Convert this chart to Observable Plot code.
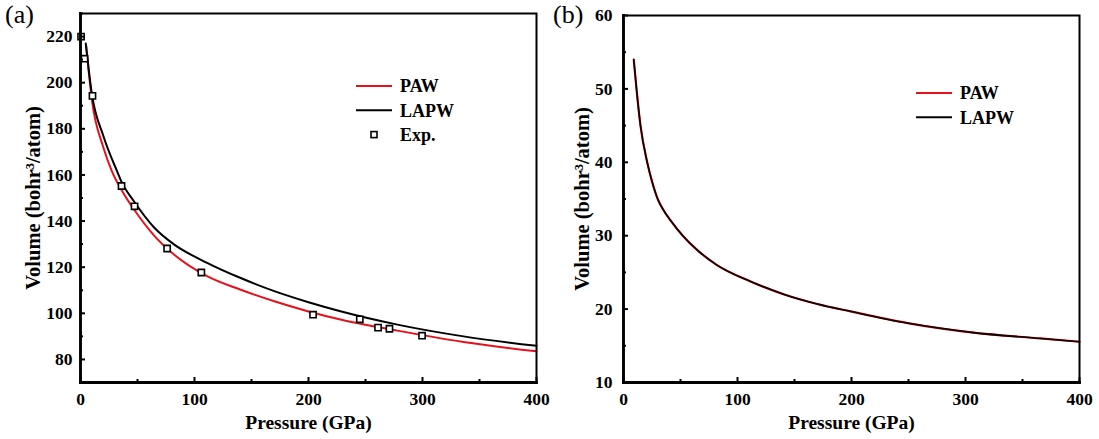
<!DOCTYPE html>
<html>
<head>
<meta charset="utf-8">
<script src="https://cdn.jsdelivr.net/npm/d3@7"></script>
<script src="https://cdn.jsdelivr.net/npm/@observablehq/plot@0.6"></script>
<style>
  html, body { margin: 0; padding: 0; background: #fff; }
  #wrap { position: relative; width: 1099px; height: 439px; overflow: hidden; }
  #pa { position: absolute; left: 0; top: 0; }
  #pb { position: absolute; left: 550px; top: 0; }
</style>
</head>
<body>
<div id="wrap"><div id="pa"></div><div id="pb"></div></div>
<script>
// ---- Panel (a) data ----
const aPawP  = [5, 10, 20, 27.5, 36, 47, 65, 82, 111, 140, 170, 200, 228, 278, 336, 400];
const aPawV  = [216, 192.5, 172, 161.7, 153.5, 145, 133.5, 125.5, 116.1, 110.3, 105.2, 100.8, 97.3, 92.5, 87.6, 83.5];
const aLapwP = [4.6, 10, 20, 32, 36, 47, 65, 82, 111, 140, 170, 200, 228, 278, 336, 400];
const aLapwV = [217, 195, 177, 161.7, 157, 148.5, 137, 129.9, 121.9, 115.4, 109.6, 104.8, 100.9, 95.1, 90.0, 85.9];
const aExpP  = [0.5, 3.5, 10.5, 36, 47.4, 76, 106, 204, 245, 261, 271, 299.6];
const aExpV  = [220, 210.4, 194.3, 155.2, 146.4, 128.1, 117.7, 99.4, 97.4, 93.8, 93.3, 90.3];
const aYTicks = [80, 100, 120, 140, 160, 180, 200, 220];
const aYMinor = [70, 90, 110, 130, 150, 170, 190, 210, 230];

// ---- Panel (b) data ----
const bP     = [9, 11.4, 14.9, 20.8, 25, 30, 35, 41.2, 52, 65, 82, 111, 141, 170, 199, 249, 307, 366, 400];
const bLapwV = [54.0, 50.0, 45.0, 40.0, 37.4, 35.0, 33.5, 32.1, 30.0, 28.0, 26.0, 23.8, 22.0, 20.7, 19.7, 18.1, 16.8, 16.0, 15.55];
const bPawV  = [54.0, 50.0, 45.0, 40.0, 37.4, 35.0, 33.5, 32.1, 30.0, 28.0, 26.0, 23.8, 22.0, 20.7, 19.7, 18.1, 16.8, 16.0, 15.55];
const bYTicks = [10, 20, 30, 40, 50, 60];
const bYMinor = [15, 25, 35, 45, 55];

const xTicks = [0, 100, 200, 300, 400];
const xMinor = [50, 150, 250, 350];

const xLabel = "Pressure (GPa)";
const yLabel = "Volume (bohr\u00B3/atom)";

const FONT = "'Liberation Serif', 'Times New Roman', serif";
const RED = "#e8101a";

const toRows = (P, V) => P.map((p, i) => ({p, v: V[i]}));

function axes(yT, yM, yPad) {
  return [
    Plot.axisX({ticks: xTicks, tickSize: -5, tickPadding: 15, label: null, tickFormat: d => String(d),
      fontSize: 17.5, fontWeight: "bold", strokeWidth: 2, stroke: "black", fill: "black"}),
    Plot.axisX({ticks: xMinor, tickSize: -3, text: null, label: null, strokeWidth: 2, stroke: "black"}),
    Plot.axisY({ticks: yT, tickSize: -5, tickPadding: yPad, label: null, tickFormat: d => String(d),
      fontSize: 17.5, fontWeight: "bold", strokeWidth: 2, stroke: "black", fill: "black"}),
    Plot.axisY({ticks: yM, tickSize: -3, text: null, label: null, strokeWidth: 2, stroke: "black"}),
  ];
}

function frames() {
  return [
    Plot.frame({stroke: "black", strokeWidth: 2}),
    Plot.frame({anchor: "left", stroke: "black", strokeWidth: 2.8}),
    Plot.frame({anchor: "bottom", stroke: "black", strokeWidth: 2.8}),
  ];
}

function labels(ydx) {
  return [
    Plot.text([xLabel], {frameAnchor: "bottom", lineAnchor: "middle", textAnchor: "middle", dy: 40,
      fontSize: 19.5, fontWeight: "bold", fill: "black"}),
    Plot.text([yLabel], {frameAnchor: "left", lineAnchor: "middle", textAnchor: "middle", dx: ydx, rotate: -90,
      fontSize: 20.5, fontWeight: "bold", fill: "black"}),
  ];
}

const plotA = Plot.plot({
  width: 550, height: 439,
  marginLeft: 80, marginRight: 14, marginTop: 13, marginBottom: 57,
  x: {domain: [0, 400]},
  y: {domain: [70, 230]},
  style: {fontFamily: FONT, background: "white", color: "black"},
  marks: [
    Plot.line(toRows(aPawP, aPawV), {x: "p", y: "v", stroke: RED, strokeWidth: 2, curve: "monotone-x"}),
    Plot.line(toRows(aLapwP, aLapwV), {x: "p", y: "v", stroke: "black", strokeWidth: 2, curve: "monotone-x"}),
    Plot.dot(toRows(aExpP, aExpV), {x: "p", y: "v", symbol: "square", r: 3.5, stroke: "black", strokeWidth: 1.6, fill: "white"}),
    ...axes(aYTicks, aYMinor, 13),
    ...frames(),
    ...labels(-47)
  ]
});

const plotB = Plot.plot({
  width: 549, height: 439,
  marginLeft: 73, marginRight: 20, marginTop: 15, marginBottom: 57,
  x: {domain: [0, 400]},
  y: {domain: [10, 60]},
  style: {fontFamily: FONT, background: "white", color: "black"},
  marks: [
    Plot.line(toRows(bP, bPawV), {x: "p", y: "v", stroke: RED, strokeWidth: 2.2, curve: "monotone-x"}),
    Plot.line(toRows(bP, bLapwV), {x: "p", y: "v", stroke: "black", strokeWidth: 1.6, curve: "monotone-x"}),
    ...axes(bYTicks, bYMinor, 16),
    ...frames(),
    ...labels(-41)
  ]
});

document.getElementById("pa").appendChild(plotA);
document.getElementById("pb").appendChild(plotB);

function decorate(svg, tag, tagX, items, lx, ly) {
  const s = d3.select(svg);
  s.append("text").attr("x", tagX).attr("y", 23).attr("text-anchor", "start").attr("font-family", FONT)
    .attr("font-size", 26).attr("font-weight", "normal").attr("fill", "black").text(tag);
  items.forEach((it, i) => {
    const y = ly + i * 24.3;
    if (it.type === "line") {
      s.append("line").attr("x1", lx).attr("x2", lx + 36).attr("y1", y).attr("y2", y)
        .attr("stroke", it.color).attr("stroke-width", 2);
    } else {
      s.append("rect").attr("x", lx + 18 - 3).attr("y", y - 3).attr("width", 6).attr("height", 6)
        .attr("fill", "white").attr("stroke", "black").attr("stroke-width", 1.6);
    }
    s.append("text").attr("x", lx + 44).attr("y", y).attr("dy", "0.35em").attr("text-anchor", "start")
      .attr("font-family", FONT).attr("font-size", 18).attr("font-weight", "bold")
      .attr("fill", "black").text(it.label);
  });
}

decorate(plotA, "(a)", 5, [
  {type: "line", color: RED, label: "PAW"},
  {type: "line", color: "black", label: "LAPW"},
  {type: "square", label: "Exp."}
], 356, 86);

decorate(plotB, "(b)", 3, [
  {type: "line", color: RED, label: "PAW"},
  {type: "line", color: "black", label: "LAPW"}
], 366, 93);
</script>
</body>
</html>
